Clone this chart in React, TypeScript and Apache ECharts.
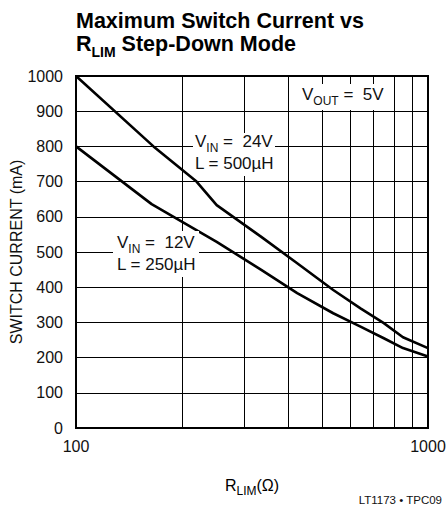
import React, { useEffect, useRef } from "react";
import * as echarts from "echarts";

// R_LIM (ohms) and switch current (mA)
const rlim24 = [100, 166, 220, 251, 336, 425, 538, 643, 749, 849, 1000];
const current24 = [1000, 800, 700, 633, 543, 468, 392, 340, 298, 258, 227];
const rlim12 = [100, 164, 251, 336, 425, 538, 643, 749, 849, 1000];
const current12 = [800, 636, 529, 449, 383, 326, 288, 255, 227, 203];
const xGridValues = [200, 300, 400, 500, 600, 700, 800, 900];
const yMin = 0;
const yMax = 1000;
const yStep = 100;

const FF = "Liberation Sans, Arial, Helvetica, sans-serif";

const mainTok = {
  fontSize: 17,
  fontFamily: FF,
  fill: "#111",
  lineHeight: 17,
  verticalAlign: "bottom",
  padding: [0, 0, 4, 0],
};
const subTok = {
  fontSize: 12,
  fontFamily: FF,
  fill: "#111",
  lineHeight: 14,
  verticalAlign: "bottom",
};

function richText(x: number, y: number, text: string, rich: any, extra: any = {}) {
  return {
    type: "text",
    z: 101,
    x,
    y,
    ...extra,
    style: { text, rich, verticalAlign: "top", align: "left" },
  };
}

function label(
  boxX: number,
  boxY: number,
  boxW: number,
  boxH: number,
  tx: number,
  ty: number,
  lines: string[]
) {
  return {
    type: "group",
    z: 100,
    children: [
      {
        type: "rect",
        z: 100,
        shape: { x: boxX, y: boxY, width: boxW, height: boxH },
        style: { fill: "#fff" },
      },
      ...lines.map((t, i) => richText(tx, ty + i * 22, t, { m: mainTok, s: subTok })),
    ],
  };
}

const titleRich = {
  t: {
    fontSize: 21.5,
    fontWeight: "bold",
    fontFamily: FF,
    fill: "#000",
    lineHeight: 17,
    verticalAlign: "bottom",
    padding: [0, 0, 4, 0],
  },
  ts: {
    fontSize: 14,
    fontWeight: "bold",
    fontFamily: FF,
    fill: "#000",
    lineHeight: 14,
    verticalAlign: "bottom",
  },
};

export default function App() {
  const ref = useRef<HTMLDivElement>(null);
  useEffect(() => {
    document.body.style.margin = "0";
    const chart = echarts.init(ref.current!, null, { renderer: "svg" });
    const option: any = {
      animation: false,
      backgroundColor: "#fff",
      grid: {
        left: 76,
        right: 19,
        top: 76,
        bottom: 82,
        show: true,
        borderColor: "#000",
        borderWidth: 2,
        containLabel: false,
        outerBoundsMode: "none",
      },
      xAxis: {
        type: "log",
        logBase: 10,
        min: 100,
        max: 1000,
        name: "{m|R}{s|LIM}{m|(Ω)}",
        nameLocation: "middle",
        nameGap: 52,
        nameMoveOverlap: false,
        nameTextStyle: {
          rich: { m: { ...mainTok, fontSize: 16 }, s: subTok },
        },
        axisLine: { show: true, lineStyle: { color: "#000", width: 2 } },
        axisTick: { show: false },
        splitLine: { show: false },
        minorSplitLine: { show: false },
        axisLabel: {
          color: "#111",
          fontSize: 16,
          fontFamily: FF,
          margin: 10,
          formatter: (v: number) => String(Math.round(v)),
        },
      },
      yAxis: {
        type: "value",
        min: yMin,
        max: yMax,
        interval: yStep,
        name: "SWITCH CURRENT (mA)",
        nameLocation: "middle",
        nameGap: 52,
        nameMoveOverlap: false,
        nameRotate: 90,
        nameTextStyle: { color: "#111", fontSize: 16, fontFamily: FF },
        axisLine: { show: true, lineStyle: { color: "#000", width: 2 } },
        axisTick: { show: false },
        splitLine: { show: true, lineStyle: { color: "#000", width: 1 } },
        axisLabel: {
          color: "#111",
          fontSize: 16,
          fontFamily: FF,
          margin: 13,
          formatter: (v: number) => String(v),
        },
      },
      series: [
        {
          type: "line",
          name: "VIN 24V",
          data: rlim24.map((r, i) => [r, current24[i]]),
          showSymbol: false,
          symbol: "none",
          smooth: false,
          lineStyle: { color: "#000", width: 2.6 },
          z: 5,
          markLine: {
            silent: true,
            symbol: ["none", "none"],
            label: { show: false },
            lineStyle: { color: "#000", width: 1, type: "solid" },
            emphasis: { disabled: true },
            data: xGridValues.map((v) => ({ xAxis: v })),
          },
        },
        {
          type: "line",
          name: "VIN 12V",
          data: rlim12.map((r, i) => [r, current12[i]]),
          showSymbol: false,
          symbol: "none",
          smooth: false,
          lineStyle: { color: "#000", width: 2.6 },
          z: 5,
        },
      ],
      graphic: {
        elements: [
          richText(76, 19, "{t|Maximum Switch Current vs}", titleRich),
          richText(76, 42, "{t|R}{ts|LIM}{t| Step-Down Mode}", titleRich),
          label(298, 84, 86, 26, 302, 89.5, ["{m|V}{s|OUT}{m| =  5V}"]),
          label(193, 133, 82, 43, 195, 137, ["{m|V}{s|IN}{m| =  24V}", "{m|L = 500µH}"]),
          label(113, 231, 86, 46, 117, 238, ["{m|V}{s|IN}{m| =  12V}", "{m|L = 250µH}"]),
          {
            type: "text",
            x: 442,
            y: 506,
            z: 100,
            style: {
              text: "LT1173 • TPC09",
              fontSize: 11.5,
              fontFamily: FF,
              fill: "#111",
              align: "right",
              verticalAlign: "bottom",
            },
          },
        ],
      },
    };
    chart.setOption(option);
    return () => chart.dispose();
  }, []);
  return <div ref={ref} style={{ width: 447, height: 510 }} />;
}
